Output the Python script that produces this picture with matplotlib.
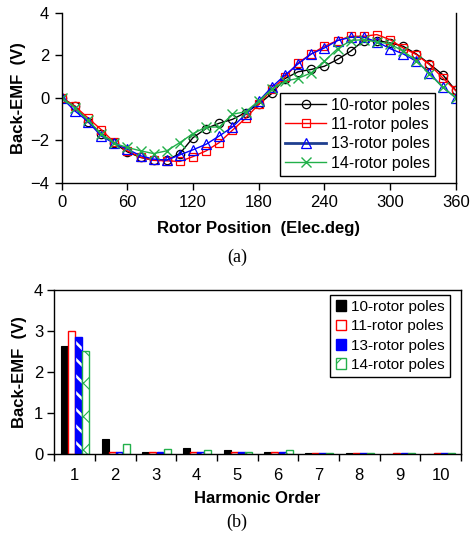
import matplotlib
matplotlib.use("Agg")
import matplotlib.pyplot as plt
import numpy as np
from matplotlib.patches import Patch

plt.rcParams['font.family'] = ['Liberation Sans', 'DejaVu Sans']

# ---------------- data ----------------
angles = list(range(0, 361, 12))
emf_10 = [0, -0.39, -1.12, -1.69, -2.15, -2.55, -2.81, -2.94, -2.94, -2.63, -1.88, -1.45,
          -1.2, -1.02, -0.7, -0.31, 0.2, 0.9, 1.22, 1.33, 1.48, 1.8, 2.19, 2.69, 2.69,
          2.58, 2.42, 2.06, 1.59, 1.09, 0.34]
emf_11 = [0, -0.4, -0.95, -1.5, -2.1, -2.5, -2.8, -2.95, -2.97, -3.0, -2.77, -2.5,
          -2.11, -1.53, -0.97, -0.31, 0.39, 0.97, 1.64, 2.06, 2.42, 2.69, 2.89, 2.89,
          2.97, 2.73, 2.34, 2.03, 1.56, 0.94, 0.34]
emf_13 = [0, -0.62, -1.12, -1.8, -2.15, -2.42, -2.73, -2.89, -2.94, -2.69, -2.45, -2.19,
          -1.8, -1.38, -0.78, -0.16, 0.5, 1.06, 1.59, 2.06, 2.34, 2.69, 2.84, 2.84,
          2.63, 2.31, 2.06, 1.72, 1.17, 0.5, 0.0]
emf_14 = [0, -0.47, -1.06, -1.69, -2.15, -2.34, -2.5, -2.63, -2.5, -2.11, -1.69, -1.38,
          -1.38, -0.78, -0.66, -0.16, 0.39, 0.78, 0.91, 1.17, 1.72, 2.3, 2.69, 2.73,
          2.63, 2.53, 2.19, 1.75, 1.12, 0.5, 0.0]

harmonics = [1, 2, 3, 4, 5, 6, 7, 8, 9, 10]
harm_10 = [2.63, 0.35, 0.03, 0.13, 0.10, 0.03, 0.02, 0.01, 0.0, 0.0]
harm_11 = [3.00, 0.05, 0.03, 0.03, 0.03, 0.03, 0.02, 0.02, 0.02, 0.02]
harm_13 = [2.84, 0.05, 0.03, 0.03, 0.03, 0.03, 0.02, 0.02, 0.02, 0.02]
harm_14 = [2.51, 0.23, 0.11, 0.08, 0.05, 0.08, 0.02, 0.02, 0.02, 0.02]

labels = ['10-rotor poles', '11-rotor poles', '13-rotor poles', '14-rotor poles']

W, H = 472, 537
fig = plt.figure(figsize=(W / 100, H / 100), dpi=100)

def frac(x0, y0, x1, y1):
    return [x0 / W, 1 - y1 / H, (x1 - x0) / W, (y1 - y0) / H]

tick_fs = 12
lab_fs = 12

# ---------------- top plot ----------------
ax1 = fig.add_axes(frac(61.7, 12.7, 455.7, 182.7))
green = '#22b04a'
ax1.plot(angles, emf_10, color='black', lw=1, marker='o', ms=6, mfc='none', mec='black', mew=0.9, label=labels[0])
ax1.plot(angles, emf_11, color='red', lw=1, marker='s', ms=6, mfc='none', mec='red', mew=0.9, label=labels[1])
ax1.plot(angles, emf_13, color='blue', lw=1, marker='^', ms=6.5, mfc='none', mec='blue', mew=0.9, label=labels[2])
ax1.plot(angles, emf_14, color=green, lw=1, marker='x', ms=6.5, mec=green, mew=1.0, label=labels[3])
ax1.set_xlim(0, 360)
ax1.set_ylim(-4, 4)
ax1.set_xticks(range(0, 361, 60))
ax1.set_yticks([-4, -2, 0, 2, 4])
ax1.spines['top'].set_visible(False)
for s in ax1.spines.values():
    s.set_linewidth(1)
ax1.tick_params(direction='out', length=5, width=1, labelsize=tick_fs, pad=4)
ax1.set_xlabel('Rotor Position  (Elec.deg)', fontsize=lab_fs, fontweight='bold', labelpad=8)
ax1.set_ylabel('Back-EMF  (V)', fontsize=lab_fs, fontweight='bold', labelpad=3)

handles, lbls = ax1.get_legend_handles_labels()
handles[2] = plt.Line2D([], [], color='#1f3f8f', lw=2, marker='^', ms=6.5, mfc='none', mec='blue', mew=0.9)
leg1 = ax1.legend(handles, lbls, loc='lower right', bbox_to_anchor=(0.9475, 0.041),
                  fontsize=11.5, frameon=True, fancybox=False, edgecolor='black',
                  framealpha=1, borderpad=0.3, labelspacing=0.28, handlelength=2.6,
                  handletextpad=0.3, borderaxespad=0)
leg1.get_frame().set_linewidth(1)

fig.text(237 / W, 1 - 257 / H, '(a)', ha='center', va='center', fontsize=13,
         family=['Liberation Serif', 'DejaVu Serif'])

# ---------------- bottom plot ----------------
ax2 = fig.add_axes(frac(54.3, 290, 461, 453.7))
x = np.arange(len(harmonics))
bw = 0.17
offs = [-0.25, -0.075, 0.1, 0.275]
plt.rcParams['hatch.linewidth'] = 1.8
ax2.bar(x + offs[0], harm_10, bw, color='black', edgecolor='black', lw=0.8)
ax2.bar(x + offs[1], harm_11, bw, color='white', edgecolor='red', lw=1)
ax2.bar(x + offs[2], harm_13, bw, color='blue', edgecolor='white', hatch='\\\\', lw=0)
ax2.bar(x + offs[2], harm_13, bw, color='none', edgecolor='blue', lw=1)
plt.rcParams['hatch.linewidth'] = 0.8
ax2.bar(x + offs[3], harm_14, bw, color='white', edgecolor=green, hatch='x', lw=1)

ax2.set_xlim(-0.5, len(harmonics) - 0.5)
ax2.set_ylim(0, 4)
ax2.set_yticks([0, 1, 2, 3, 4])
ax2.set_xticks(np.arange(-0.5, len(harmonics), 1.0))
ax2.set_xticklabels([])
ax2.set_xticks(x, minor=True)
ax2.set_xticklabels([str(h) for h in harmonics], minor=True)
ax2.tick_params(axis='x', which='minor', length=0, labelsize=tick_fs, pad=10)
ax2.tick_params(axis='x', which='major', direction='out', length=5, width=1)
ax2.tick_params(axis='y', direction='out', length=5, width=1, labelsize=tick_fs, pad=3)
for s in ax2.spines.values():
    s.set_linewidth(1)
ax2.set_xlabel('Harmonic Order', fontsize=lab_fs, fontweight='bold', labelpad=6)
ax2.set_ylabel('Back-EMF  (V)', fontsize=lab_fs, fontweight='bold', labelpad=5)

h2 = [Patch(facecolor='black', edgecolor='black'),
      Patch(facecolor='white', edgecolor='red', lw=1),
      Patch(facecolor='blue', edgecolor='blue', lw=1),
      Patch(facecolor='white', edgecolor=green, lw=1, hatch='x')]
leg2 = ax2.legend(h2, labels, loc='upper right', bbox_to_anchor=((450 - 54.3) / 406.7, 1 - (294.7 - 290) / 163.7),
                  fontsize=11, frameon=True, fancybox=False, edgecolor='black',
                  framealpha=1, borderpad=0.35, labelspacing=0.35, handlelength=0.7,
                  handleheight=0.7, handletextpad=0.3, borderaxespad=0)
leg2.get_frame().set_linewidth(1)

fig.text(237 / W, 1 - 522 / H, '(b)', ha='center', va='center', fontsize=13,
         family=['Liberation Serif', 'DejaVu Serif'])

fig.savefig('out.png', dpi=100)
